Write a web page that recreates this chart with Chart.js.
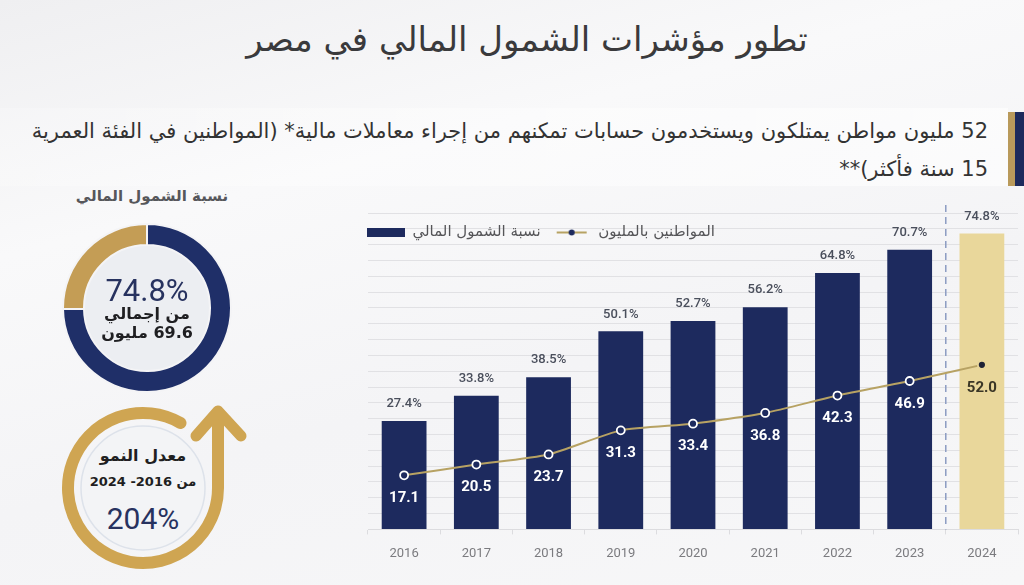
<!DOCTYPE html>
<html lang="ar">
<head>
<meta charset="utf-8">
<script src="https://cdn.jsdelivr.net/npm/chart.js@4.4.1/dist/chart.umd.min.js"></script>
<style>
  html, body { margin: 0; padding: 0; }
  body {
    width: 1024px; height: 585px; position: relative; overflow: hidden;
    background: linear-gradient(165deg, #efeff1 0%, #f9f9fa 30%, #f4f4f6 60%, #f7f7f8 100%);
    font-family: 'DejaVu Sans', sans-serif;
  }
  .abs { position: absolute; }
  #title {
    left: 0; width: 1054px; top: 19px; text-align: center;
    font-size: 34px; color: #3a3a3c; direction: rtl; white-space: nowrap;
  }
  #band { left: 0; top: 108px; width: 1008px; height: 78px; background: linear-gradient(90deg, rgba(255,255,255,0.2), rgba(255,255,255,0.6)); }
  #subtitle {
    right: 36px; top: 112px; text-align: right; direction: rtl;
    font-size: 21px; line-height: 38px; color: #333; white-space: nowrap;
  }
  #accentGold { left: 1008px; top: 112px; width: 7px; height: 74px; background: #b99a5b; }
  #accentNavy { left: 1015px; top: 112px; width: 9px; height: 74px; background: #1d2a5c; }
  #donutTitle {
    left: 52px; width: 200px; top: 187px; text-align: center; direction: rtl;
    font-size: 15px; font-weight: bold; color: #56575b;
  }
  .center-txt { text-align: center; direction: rtl; white-space: nowrap; }
  #donutPct { left: 62px; width: 170px; top: 272px; font-family: Roboto, sans-serif; font-size: 31px; color: #27325f; }
  #donutSub { left: 62px; width: 170px; top: 304px; font-size: 16px; font-weight: bold; color: #1f1f22; line-height: 19px; }
  #growthTxt1 { left: 43px; width: 200px; top: 446px; font-size: 16px; font-weight: bold; color: #1f1f22; }
  #growthTxt2 { left: 43px; width: 200px; top: 474px; font-size: 13px; font-weight: bold; color: #1f1f22; }
  #growthPct { left: 43px; width: 200px; top: 501px; font-family: Roboto, sans-serif; font-size: 30px; color: #27325f; }
</style>
</head>
<body>
<div id="band" class="abs"></div>
<div id="title" class="abs">تطور مؤشرات الشمول المالي في مصر</div>
<div id="subtitle" class="abs">52 مليون مواطن يمتلكون ويستخدمون  حسابات تمكنهم من إجراء معاملات مالية* (المواطنين في الفئة العمرية<br>15 سنة فأكثر)**</div>
<div id="accentGold" class="abs"></div>
<div id="accentNavy" class="abs"></div>

<div id="donutTitle" class="abs">نسبة الشمول المالي</div>
<canvas id="donutChart" class="abs" width="170" height="170" style="left:62px;top:223px"></canvas>
<div id="donutPct" class="abs center-txt"></div>
<div id="donutSub" class="abs center-txt">من إجمالي<br>69.6 مليون</div>

<svg class="abs" style="left:50px;top:395px" width="200" height="190" viewBox="0 0 200 190">
  <circle cx="93" cy="93" r="62" fill="#f3f4f6" stroke="#dde2ea" stroke-width="1.5"/>
  <path d="M168 93 A75 75 0 1 1 130.5 28" fill="none" stroke="#cfa552" stroke-width="12" stroke-linecap="round"/>
  <path d="M168 93 L168 20" fill="none" stroke="#cfa552" stroke-width="12"/>
  <path d="M146 41 L168 16 L191 41" fill="none" stroke="#cfa552" stroke-width="11" stroke-linecap="round" stroke-linejoin="round"/>
</svg>
<div id="growthTxt1" class="abs center-txt">معدل النمو</div>
<div id="growthTxt2" class="abs center-txt">من 2016- 2024</div>
<div id="growthPct" class="abs center-txt">204%</div>

<canvas id="mainChart" class="abs" width="669" height="385" style="left:355px;top:195px"></canvas>

<script>
/* globals Chart:false */
const years = ['2016', '2017', '2018', '2019', '2020', '2021', '2022', '2023', '2024'];
const inclusionPct = [27.4, 33.8, 38.5, 50.1, 52.7, 56.2, 64.8, 70.7, 74.8];
const citizensMillions = [17.1, 20.5, 23.7, 31.3, 33.4, 36.8, 42.3, 46.9, 52.0];
const seriesNames = ['نسبة الشمول المالي', 'المواطنين بالمليون'];
const donutShare = [74.8, 25.2];

const NAVY = '#1d2a5e';
const GOLD_BAR = '#e9d79b';
const LINE_GOLD = '#b7a263';

(() => {
  'use strict'

  // donut with filled centre
  const innerFill = {
    id: 'innerFill',
    beforeDatasetsDraw(chart) {
      const arc = chart.getDatasetMeta(0).data[0];
      const ctx = chart.ctx;
      ctx.save();
      ctx.beginPath();
      ctx.arc(arc.x, arc.y, arc.innerRadius, 0, Math.PI * 2);
      ctx.fillStyle = '#eceef2';
      ctx.fill();
      ctx.restore();
    }
  };

  new Chart(document.getElementById('donutChart'), {
    type: 'doughnut',
    data: {
      labels: ['', ''],
      datasets: [{
        data: donutShare,
        backgroundColor: ['#1f2f68', '#c49d55'],
        borderColor: '#f4f4f6',
        borderWidth: 2
      }]
    },
    options: {
      responsive: false,
      animation: false,
      cutout: '75%',
      plugins: { legend: { display: false }, tooltip: { enabled: false } }
    },
    plugins: [innerFill]
  });
  document.getElementById('donutPct').textContent = donutShare[0].toFixed(1) + '%';
})();

(() => {
  'use strict'

  // legend markers
  const barMark = document.createElement('canvas');
  barMark.width = 38; barMark.height = 9;
  let c = barMark.getContext('2d');
  c.fillStyle = NAVY;
  c.fillRect(0, 0, 38, 9);

  const lineMark = document.createElement('canvas');
  lineMark.width = 34; lineMark.height = 9;
  c = lineMark.getContext('2d');
  c.strokeStyle = LINE_GOLD;
  c.lineWidth = 2;
  c.beginPath(); c.moveTo(2, 4.5); c.lineTo(32, 4.5); c.stroke();
  c.fillStyle = NAVY;
  c.beginPath(); c.arc(17, 4.5, 3, 0, Math.PI * 2); c.fill();

  // keep the in-plot legend on one row
  const legendRow = {
    id: 'legendRow',
    beforeLayout(chart) {
      if (chart.legend) chart.legend.isHorizontal = () => true;
    }
  };

  const divider = {
    id: 'divider',
    beforeDatasetsDraw(chart) {
      const bars = chart.getDatasetMeta(0).data;
      const n = bars.length;
      const x = (bars[n - 2].x + bars[n - 1].x) / 2;
      const {ctx, chartArea} = chart;
      ctx.save();
      ctx.strokeStyle = '#8c9cc2';
      ctx.lineWidth = 1.5;
      ctx.setLineDash([7, 5]);
      ctx.beginPath();
      ctx.moveTo(x, chartArea.top - 8);
      ctx.lineTo(x, chartArea.bottom);
      ctx.stroke();
      ctx.restore();
    }
  };

  const valueLabels = {
    id: 'valueLabels',
    afterDatasetsDraw(chart) {
      const ctx = chart.ctx;
      const bars = chart.getDatasetMeta(0).data;
      const pts = chart.getDatasetMeta(1).data;
      ctx.save();
      ctx.textAlign = 'center';
      ctx.textBaseline = 'middle';
      ctx.font = '500 13px Roboto';
      ctx.fillStyle = '#4a4f5c';
      bars.forEach((b, i) => ctx.fillText(inclusionPct[i].toFixed(1) + '%', b.x, b.y - 17));
      ctx.font = 'bold 15px Roboto';
      pts.forEach((p, i) => {
        ctx.fillStyle = i === pts.length - 1 ? '#3a3626' : '#ffffff';
        ctx.fillText(citizensMillions[i].toFixed(1), p.x, p.y + 23);
      });
      ctx.restore();
    }
  };

  const last = years.length - 1;

  new Chart(document.getElementById('mainChart'), {
    type: 'bar',
    data: {
      labels: years,
      datasets: [{
        type: 'bar',
        label: seriesNames[0],
        data: inclusionPct,
        backgroundColor: years.map((y, i) => i === last ? GOLD_BAR : NAVY),
        barPercentage: 0.62,
        categoryPercentage: 1,
        yAxisID: 'y',
        order: 2
      },
      {
        type: 'line',
        label: seriesNames[1],
        data: citizensMillions,
        borderColor: LINE_GOLD,
        borderWidth: 2,
        tension: 0.2,
        pointRadius: 4,
        pointBorderWidth: 1.8,
        pointBackgroundColor: years.map((y, i) => i === last ? '#1e2236' : NAVY),
        pointBorderColor: years.map((y, i) => i === last ? GOLD_BAR : '#ffffff'),
        yAxisID: 'y1',
        order: 1
      }]
    },
    options: {
      responsive: false,
      animation: false,
      layout: { padding: { left: 13, right: 6, top: 18, bottom: 6 } },
      scales: {
        x: {
          grid: { display: true, drawOnChartArea: false, drawTicks: true, tickLength: 5, color: '#dcdcdf' },
          border: { display: true, color: '#dcdcdf' },
          ticks: { color: '#7b7b7f', padding: 12, font: { family: 'Roboto', size: 13 } }
        },
        y: {
          min: 0,
          max: 80,
          ticks: { display: false, stepSize: 4 },
          grid: { color: '#e1e1e4', drawTicks: false },
          border: { display: false }
        },
        y1: {
          display: false,
          min: 0,
          max: 100
        }
      },
      plugins: {
        legend: {
          position: 'chartArea',
          align: 'start',
          labels: {
            usePointStyle: true,
            pointStyleWidth: 38,
            padding: 12,
            color: '#555558',
            font: { family: 'DejaVu Sans', size: 15 },
            sort: (a, b) => a.datasetIndex - b.datasetIndex,
            generateLabels(chart) {
              const items = Chart.defaults.plugins.legend.labels.generateLabels(chart);
              items.forEach((it) => { it.pointStyle = it.datasetIndex === 0 ? barMark : lineMark; });
              return items;
            }
          }
        },
        tooltip: { enabled: false }
      }
    },
    plugins: [legendRow, divider, valueLabels]
  });
})();
</script>
</body>
</html>
